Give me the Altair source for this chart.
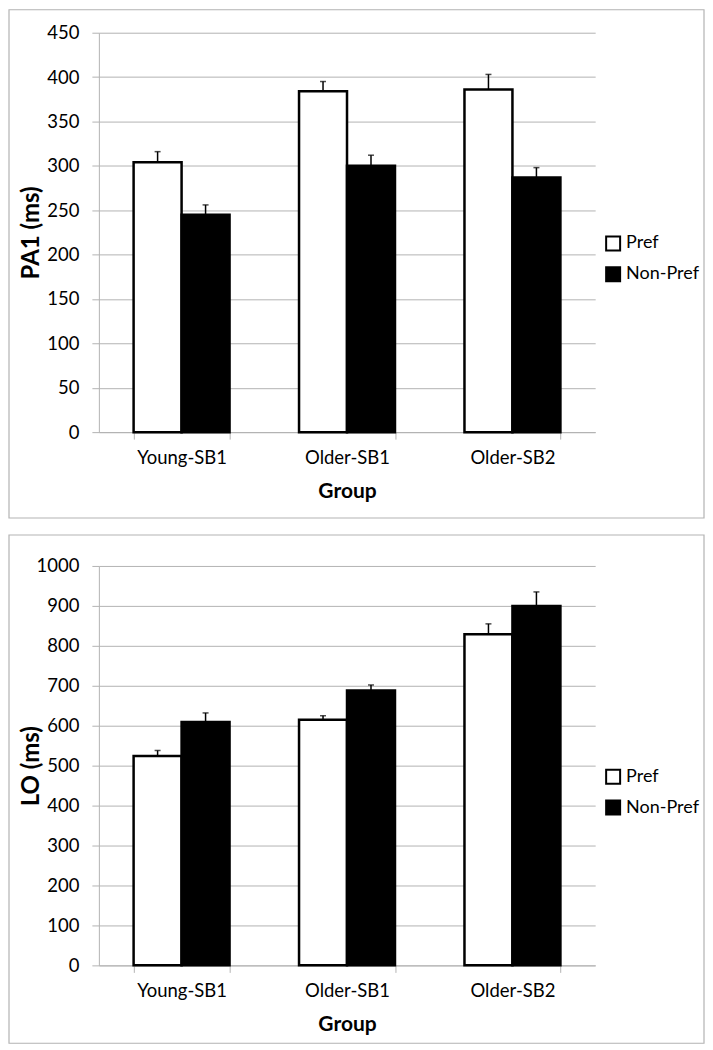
import altair as alt
import pandas as pd

groups = ["Young-SB1", "Older-SB1", "Older-SB2"]
series = ["Pref", "Non-Pref"]

pa1_pref = [304, 384, 386]
pa1_nonpref = [245, 300, 287]
pa1_pref_err = [12, 11, 17]
pa1_nonpref_err = [11, 12, 11]

lo_pref = [524, 615, 829]
lo_nonpref = [609, 688, 900]
lo_pref_err = [14, 10, 26]
lo_nonpref_err = [23, 14, 35]

FONT = "Lato"
GRAY = "#b3b3b3"
W, H = 497, 400


def panel(vp, vn, ep, en, ytitle, ymax, ystep, top_pad):
    rows = []
    for i, g in enumerate(groups):
        rows.append(dict(group=g, series="Pref", value=vp[i], upper=vp[i] + ep[i]))
        rows.append(dict(group=g, series="Non-Pref", value=vn[i], upper=vn[i] + en[i]))
    df = pd.DataFrame(rows)

    x = alt.X(
        "group:N",
        sort=groups,
        scale=alt.Scale(paddingInner=0.42, paddingOuter=0.21),
        axis=alt.Axis(
            title="Group",
            tickBand="extent",
            grid=False,
            labelAngle=0,
            tickSize=7,
            labelPadding=9,
            labelFontSize=18.5,
            titleFontSize=21,
            titleFontWeight="bold",
            titleY=59,
            titleBaseline="middle",
        ),
    )
    xo = alt.XOffset("series:N", sort=series, scale=alt.Scale(paddingInner=0, paddingOuter=0))
    tick_vals = list(range(0, ymax + 1, ystep))
    yscale = alt.Scale(domain=[0, ymax], nice=False)
    yaxis = alt.Axis(
        title=ytitle,
        values=tick_vals,
        tickCount=len(tick_vals),
        format="d",
        labelOverlap=False,
        tickSize=7,
        labelPadding=13,
        labelFontSize=18.5,
        titleFontSize=24,
        titleFontWeight="bold",
        titleAngle=-90,
        titleX=-67,
        titleY=H / 2,
        titleAlign="center",
        titleBaseline="middle",
    )
    color = alt.Color(
        "series:N",
        sort=series,
        scale=alt.Scale(domain=series, range=["white", "black"]),
        legend=alt.Legend(
            title=None,
            orient="none",
            legendX=506,
            legendY=202,
            direction="vertical",
            symbolType="square",
            symbolSize=196,
            symbolStrokeColor="black",
            symbolStrokeWidth=2,
            labelFontSize=18,
            labelFont=FONT,
            labelColor="black",
            rowPadding=9,
        ),
    )

    border = alt.Chart(pd.DataFrame({"k": [0]})).mark_rect(
        filled=False, stroke=GRAY, strokeWidth=1.2
    ).encode(
        x=alt.value(-90), x2=alt.value(606), y=alt.value(-top_pad), y2=alt.value(509 - top_pad)
    )

    bars = alt.Chart(df).mark_bar(stroke="black", strokeWidth=2.5).encode(
        x=x, xOffset=xo, y=alt.Y("value:Q", scale=yscale, axis=yaxis), color=color
    )
    rules = alt.Chart(df).mark_rule(color="black", strokeWidth=1.5).encode(
        x=x, xOffset=xo, y=alt.Y("value:Q", scale=yscale, axis=yaxis), y2="upper:Q"
    )
    caps = alt.Chart(df).mark_tick(color="black", size=6, thickness=1.5).encode(
        x=x, xOffset=xo, y=alt.Y("upper:Q", scale=yscale, axis=yaxis)
    )
    return alt.layer(border, bars, rules, caps).properties(width=W, height=H)


top = panel(pa1_pref, pa1_nonpref, pa1_pref_err, pa1_nonpref_err, "PA1 (ms)", 450, 50, 23)
bottom = panel(lo_pref, lo_nonpref, lo_pref_err, lo_nonpref_err, "LO (ms)", 1000, 100, 31)

chart = (
    alt.vconcat(top, bottom, spacing=15)
    .resolve_scale(y="independent", color="independent")
    .resolve_legend(color="independent")
    .properties(padding=0)
    .configure_view(strokeWidth=0)
    .configure_axis(
        domainColor=GRAY,
        tickColor=GRAY,
        gridColor=GRAY,
        labelColor="black",
        titleColor="black",
        labelFont=FONT,
        titleFont=FONT,
    )
)

chart.save("out.html", embed_options={"renderer": "svg", "actions": False})
